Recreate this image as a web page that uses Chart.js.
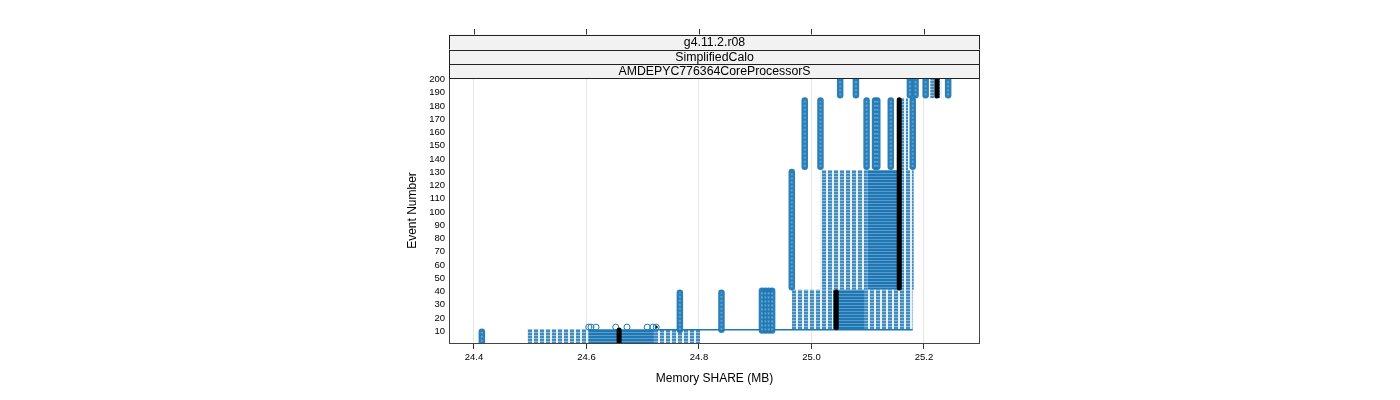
<!DOCTYPE html>
<html>
<head>
<meta charset="utf-8">
<script src="https://cdn.jsdelivr.net/npm/chart.js@4/dist/chart.umd.min.js"></script>
<style>
  html, body { margin: 0; padding: 0; background: #ffffff; }
  #wrap { width: 1400px; height: 400px; }
</style>
</head>
<body>
<div id="wrap"><canvas id="c" width="1400" height="400"></canvas></div>
<script>
// ---- Data ----
const stripLabels = ['g4.11.2.r08', 'SimplifiedCalo', 'AMDEPYC776364CoreProcessorS'];
const xTicks = [24.4, 24.6, 24.8, 25.0, 25.2];
const xTickLabels = ['24.4', '24.6', '24.8', '25.0', '25.2'];
const yTicks = [10, 20, 30, 40, 50, 60, 70, 80, 90, 100, 110, 120, 130, 140, 150, 160, 170, 180, 190, 200];

// runs of points at constant memory (x = memory, from/to = event number)
const colX    = [24.414, 24.766, 24.840, 24.912, 24.918, 24.924, 24.930, 24.965,
                 24.988, 25.016, 25.098, 25.113, 25.117, 25.141, 25.180,
                 25.051, 25.079, 25.175, 25.185, 25.203, 25.243];
const colFrom = [1, 10, 10, 9.5, 9.5, 9.5, 9.5, 42,
                 133, 133, 133, 133, 133, 133, 133,
                 187, 187, 187, 187, 187, 187];
const colTo   = [8.5, 38, 38, 39.5, 39.5, 39.5, 39.5, 129,
                 183, 183, 183, 183, 183, 183, 183,
                 203, 203, 203, 203, 203, 203];

// dense blocks of overlapping points (lo/hi memory, from/to events, dark core or light)
const bandLo   = [24.494, 24.603, 24.720, 24.965, 25.038, 25.095, 25.015, 25.099, 25.161, 25.156, 25.211];
const bandHi   = [24.603, 24.720, 24.802, 25.038, 25.095, 25.180, 25.099, 25.161, 25.182, 25.172, 25.232];
const bandFrom = [0, 0, 0, 10, 10, 10, 40.2, 40.2, 40.2, 130.6, 185];
const bandTo   = [10.5, 10.5, 10.5, 40.2, 40.2, 40.2, 130.6, 130.6, 130.6, 185, 200];
const bandDark = [false, true, false, false, true, false, false, true, false, false, false];

// medians (black)
const medX    = [24.658, 25.044, 25.156, 25.223];
const medFrom = [1, 11.5, 41.5, 186.5];
const medTo   = [9.8, 38.5, 183.5, 203];

// isolated points just above event 10
const outX = [24.604, 24.608, 24.617, 24.652, 24.672, 24.708, 24.718, 24.724];
const outY = [12, 12, 12, 12, 12, 12, 12, 12];
const markX = [24.724];
const markY = [12];

// thin connector at event 10
const linkX = [24.724, 25.180];
const linkY = [10, 10];

// ---- Styling ----
const BLUE = '#1f78b4';
function makePattern(dark) {
  const p = document.createElement('canvas');
  if (dark) {
    p.width = 1; p.height = 3;
    const g = p.getContext('2d');
    g.fillStyle = '#1f78b4'; g.fillRect(0, 0, 1, 3);
    g.fillStyle = '#5a9dcc'; g.fillRect(0, 2, 1, 1);
  } else {
    p.width = 6; p.height = 3;
    const g = p.getContext('2d');
    g.fillStyle = '#ffffff'; g.fillRect(0, 0, 6, 3);
    g.fillStyle = 'rgba(31,120,180,0.85)'; g.fillRect(0, 0, 4, 2);
    g.fillStyle = 'rgba(31,120,180,0.50)'; g.fillRect(0, 2, 4, 1);
    g.fillStyle = 'rgba(31,120,180,0.10)'; g.fillRect(4, 0, 2, 3);
  }
  return document.getElementById('c').getContext('2d').createPattern(p, 'repeat');
}
const lightPat = makePattern(false);
const darkPat = makePattern(true);

const datasets = [];
// bands
bandLo.forEach((lo, i) => {
  datasets.push({
    data: [{x: lo, y: bandTo[i]}, {x: bandHi[i], y: bandTo[i]}],
    showLine: true, borderWidth: 0, borderColor: 'rgba(0,0,0,0)',
    pointRadius: 0, fill: {value: bandFrom[i]},
    backgroundColor: bandDark[i] ? darkPat : lightPat, order: 6
  });
});
// connector
datasets.push({
  data: linkX.map((x, i) => ({x, y: linkY[i]})),
  showLine: true, borderWidth: 1.5, borderColor: BLUE, pointRadius: 0, fill: false, order: 5
});
// columns
colX.forEach((x, i) => {
  datasets.push({
    data: [{x, y: colFrom[i]}, {x, y: colTo[i]}],
    showLine: true, borderWidth: 6.5, borderColor: 'rgba(31,120,180,0.95)',
    borderCapStyle: 'round', pointRadius: 0, fill: false, order: 4
  });
  datasets.push({
    data: [{x, y: colFrom[i]}, {x, y: colTo[i]}],
    showLine: true, borderWidth: 2, borderColor: 'rgba(110,170,215,0.8)',
    borderDash: [2, 2], pointRadius: 0, fill: false, order: 3
  });
});
// outlier circles
datasets.push({
  data: outX.map((x, i) => ({x, y: outY[i]})),
  showLine: false, pointRadius: 3, pointBorderWidth: 1,
  pointBorderColor: BLUE, pointBackgroundColor: 'rgba(255,255,255,0)', order: 2
});
datasets.push({
  data: markX.map((x, i) => ({x, y: markY[i]})),
  showLine: false, pointRadius: 1.5, pointBorderWidth: 0,
  pointBackgroundColor: '#000', order: 2
});
// medians
medX.forEach((x, i) => {
  datasets.push({
    data: [{x, y: medFrom[i]}, {x, y: medTo[i]}],
    showLine: true, borderWidth: 5, borderColor: '#000',
    borderCapStyle: 'round', pointRadius: 0, fill: false, order: 1
  });
});

const FONT = "'Liberation Sans', Arial, Helvetica, sans-serif";

const framePlugin = {
  id: 'frame',
  afterDraw(chart) {
    const {ctx, chartArea: a} = chart;
    const xs = chart.scales.x;
    ctx.save();
    // panel frame
    ctx.strokeStyle = '#444';
    ctx.lineWidth = 1;
    ctx.strokeRect(a.left + 0.5, a.top + 0.5, a.right - a.left - 1, a.bottom - a.top);
    // strips
    const edges = [34.5, 49.5, 64, 78];
    ctx.font = '12.3px ' + FONT;
    ctx.textAlign = 'center';
    ctx.textBaseline = 'middle';
    for (let i = 0; i < 3; i++) {
      const y0 = edges[i], y1 = edges[i + 1];
      ctx.fillStyle = '#f2f2f2';
      ctx.fillRect(a.left, y0, a.right - a.left, y1 - y0);
      ctx.strokeStyle = '#222';
      ctx.strokeRect(a.left + 0.5, Math.round(y0) + 0.5, a.right - a.left - 1, Math.round(y1) - Math.round(y0));
      ctx.fillStyle = '#000';
      ctx.fillText(stripLabels[i], (a.left + a.right) / 2, (y0 + y1) / 2 + 1);
    }
    // top tick marks
    ctx.strokeStyle = '#333';
    ctx.beginPath();
    xTicks.forEach(v => {
      const px = Math.round(xs.getPixelForValue(v)) + 0.5;
      ctx.moveTo(px, 29); ctx.lineTo(px, 34.5);
    });
    ctx.stroke();
    ctx.restore();
  }
};

new Chart(document.getElementById('c'), {
  type: 'scatter',
  data: { datasets },
  plugins: [framePlugin],
  options: {
    responsive: false,
    animation: false,
    events: [],
    layout: { padding: { left: 405, right: 420, top: 78, bottom: 14 } },
    plugins: { legend: { display: false }, tooltip: { enabled: false }, title: { display: false } },
    scales: {
      x: {
        type: 'linear', position: 'bottom',
        min: 24.3556, max: 25.2996,
        afterBuildTicks: s => { s.ticks = xTicks.map(v => ({value: v})); },
        afterFit: s => { s.height = 43; },
        ticks: {
          autoSkip: false, maxRotation: 0, padding: 3, color: '#000',
          font: { family: FONT, size: 9.5 },
          callback: (v) => { const k = xTicks.indexOf(v); return k >= 0 ? xTickLabels[k] : ''; }
        },
        grid: { color: '#e6e6e6', lineWidth: 1, drawTicks: true, tickLength: 6, tickColor: '#333' },
        border: { display: false },
        title: { display: true, text: 'Memory SHARE (MB)', color: '#000', padding: 0,
                 font: { family: FONT, size: 12 } }
      },
      y: {
        type: 'linear', position: 'left',
        min: 0, max: 200,
        afterBuildTicks: s => { s.ticks = yTicks.map(v => ({value: v})); },
        afterFit: s => { s.width = 44; },
        ticks: { autoSkip: false, padding: 4, labelOffset: 1.5, color: '#000', font: { family: FONT, size: 9.5 } },
        grid: { display: false, drawTicks: false },
        border: { display: false },
        title: { display: true, text: 'Event Number', color: '#000', padding: 0,
                 font: { family: FONT, size: 12 } }
      }
    }
  }
});
</script>
</body>
</html>
